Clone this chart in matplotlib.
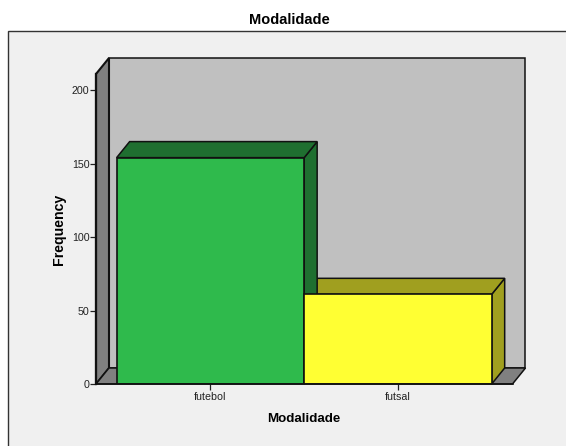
import matplotlib
matplotlib.use("Agg")
import matplotlib.pyplot as plt
from matplotlib.patches import Polygon, Rectangle

categories = ["futebol", "futsal"]
frequency = [154, 61]
y_ticks = [0, 50, 100, 150, 200]

bar_colors = ["#2fba4c", "#ffff33"]
shade_colors = ["#1f6f30", "#a09f1f"]

W, H = 566, 446
plt.rcParams["font.family"] = ["Liberation Sans", "DejaVu Sans"]

fig = plt.figure(figsize=(W / 100, H / 100), dpi=100, facecolor="white")

# grey chart area behind everything
fig.patches.append(Rectangle((7.5 / W, -0.01), (W - 7.5 + 5) / W, (H - 30.5) / H + 0.01,
                             transform=fig.transFigure, facecolor="#f0f0f0",
                             edgecolor="#333333", linewidth=1.0, zorder=-1))

ax = fig.add_axes([96 / W, (H - 384) / H, 416.5 / W, 310 / H])
ax.patch.set_visible(False)
ax.set_xlim(-0.61, 1.611)
ax.set_ylim(0, 210.9)

# depth of the fake 3d box, in data units
dx = 0.0693
dy = 10.9
x0, x1 = ax.get_xlim()
y0, y1 = ax.get_ylim()


def face(points, color, z, lw=1.1):
    ax.add_patch(Polygon(points, closed=True, facecolor=color, edgecolor="#111111",
                         linewidth=lw, zorder=z, clip_on=False, joinstyle="miter"))


# walls and floor
face([(x0 + dx, y0 + dy), (x1 + dx, y0 + dy), (x1 + dx, y1 + dy), (x0 + dx, y1 + dy)], "#c0c0c0", 1)
face([(x0, y0), (x0 + dx, y0 + dy), (x0 + dx, y1 + dy), (x0, y1)], "#808080", 2, lw=1.5)
face([(x0, y0), (x1, y0), (x1 + dx, y0 + dy), (x0 + dx, y0 + dy)], "#808080", 2)

# bars, the right one first so the left one sits over it
for i in [1, 0]:
    left = i - 0.5
    right = i + 0.5
    top = frequency[i]
    z = 3 + (1 - i)
    face([(right, y0), (right + dx, y0 + dy), (right + dx, top + dy), (right, top)], shade_colors[i], z)
    face([(left, top), (right, top), (right + dx, top + dy), (left + dx, top + dy)], shade_colors[i], z)

ax.bar(range(len(categories)), frequency, width=1.0, color=bar_colors,
       edgecolor="#111111", linewidth=1.2, zorder=6)

for name in ["top", "right"]:
    ax.spines[name].set_visible(False)
for name in ["left", "bottom"]:
    ax.spines[name].set_color("#111111")
    ax.spines[name].set_zorder(7)
ax.spines["left"].set_linewidth(1.6)
ax.spines["bottom"].set_linewidth(1.2)

ax.set_xticks(range(len(categories)))
ax.set_xticklabels(categories)
ax.set_yticks(y_ticks)
ax.tick_params(axis="both", length=4.5, width=0.9, labelsize=7.7, colors="#222222")
ax.tick_params(axis="x", pad=1.5)
ax.tick_params(axis="y", pad=0.2)

ax.set_xlabel("Modalidade", fontsize=9.6, fontweight="bold", labelpad=8)
ax.set_ylabel("Frequency", fontsize=10.2, fontweight="bold", labelpad=4.5)

fig.text(289.5 / W, (H - 19.5) / H, "Modalidade", fontsize=10.5, fontweight="bold",
         ha="center", va="center")

fig.savefig("out.png", dpi=100)
